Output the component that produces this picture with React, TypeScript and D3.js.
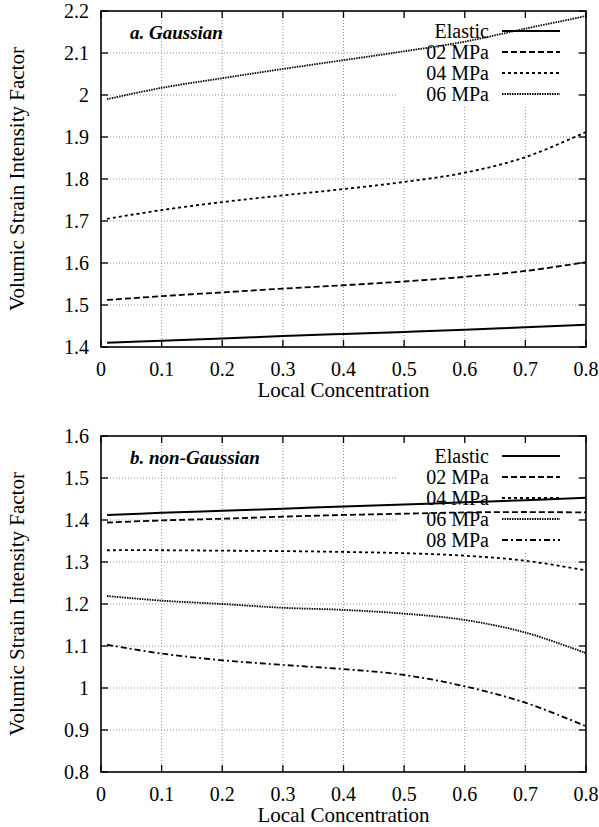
import React, { useEffect, useRef } from 'react';
import * as d3 from 'd3';

// Local concentration samples
const conc = [0.01, 0.1, 0.2, 0.3, 0.4, 0.5, 0.6, 0.7, 0.8];

// a. Gaussian
const gaussElastic = [1.41, 1.415, 1.42, 1.426, 1.431, 1.436, 1.441, 1.447, 1.453];
const gauss02 = [1.512, 1.521, 1.53, 1.539, 1.547, 1.556, 1.567, 1.581, 1.602];
const gauss04 = [1.705, 1.726, 1.745, 1.761, 1.776, 1.793, 1.815, 1.852, 1.912];
const gauss06 = [1.99, 2.017, 2.04, 2.062, 2.083, 2.104, 2.127, 2.158, 2.188];

// b. non-Gaussian
const ngElastic = [1.412, 1.417, 1.422, 1.427, 1.432, 1.437, 1.442, 1.447, 1.453];
const ng02 = [1.394, 1.399, 1.403, 1.408, 1.412, 1.415, 1.418, 1.419, 1.418];
const ng04 = [1.328, 1.328, 1.327, 1.326, 1.324, 1.321, 1.315, 1.303, 1.28];
const ng06 = [1.219, 1.208, 1.2, 1.191, 1.186, 1.177, 1.162, 1.132, 1.083];
const ng08 = [1.103, 1.082, 1.066, 1.055, 1.045, 1.031, 1.004, 0.965, 0.909];

const legendNames = ['Elastic', '02 MPa', '04 MPa', '06 MPa', '08 MPa'];
const xTicks = [0, 0.1, 0.2, 0.3, 0.4, 0.5, 0.6, 0.7, 0.8];
const yTicksA = [1.4, 1.5, 1.6, 1.7, 1.8, 1.9, 2, 2.1, 2.2];
const yTicksB = [0.8, 0.9, 1, 1.1, 1.2, 1.3, 1.4, 1.5, 1.6];

const dashes = ['none', '6,3', '3,3', '1.5,1', '6,3,2,3'];
const font = 'Liberation Serif, DejaVu Serif, serif';

const App = () => {
  const ref = useRef(null);

  useEffect(() => {
    const svg = d3.select(ref.current);
    svg.selectAll('*').remove();

    const drawPanel = (top, yTicks, seriesList, title) => {
      const left = 101, right = 586, bottom = top + 336;
      const x = d3.scaleLinear().domain([0, 0.8]).range([left, right]);
      const y = d3.scaleLinear().domain([yTicks[0], yTicks[yTicks.length - 1]]).range([bottom, top]);
      const g = svg.append('g').style('font-family', font);

      // grid
      g.selectAll('.gx').data(xTicks.slice(1, -1)).enter().append('line')
        .attr('x1', d => x(d)).attr('x2', d => x(d)).attr('y1', top).attr('y2', bottom)
        .attr('stroke', '#777').attr('stroke-width', 0.8).attr('stroke-dasharray', '1,2');
      g.selectAll('.gy').data(yTicks.slice(1, -1)).enter().append('line')
        .attr('x1', left).attr('x2', right).attr('y1', d => y(d)).attr('y2', d => y(d))
        .attr('stroke', '#777').attr('stroke-width', 0.8).attr('stroke-dasharray', '1,2');

      // legend background hides grid
      const legH = seriesList.length * 21 + 6;
      g.append('rect').attr('x', 398).attr('y', top + 5).attr('width', 180).attr('height', legH)
        .attr('fill', '#fff');

      // ticks (inward, all sides)
      xTicks.forEach(t => {
        g.append('line').attr('x1', x(t)).attr('x2', x(t)).attr('y1', bottom).attr('y2', bottom - 7)
          .attr('stroke', '#000').attr('stroke-width', 1.3);
        g.append('line').attr('x1', x(t)).attr('x2', x(t)).attr('y1', top).attr('y2', top + 7)
          .attr('stroke', '#000').attr('stroke-width', 1.3);
      });
      yTicks.forEach(t => {
        g.append('line').attr('x1', left).attr('x2', left + 7).attr('y1', y(t)).attr('y2', y(t))
          .attr('stroke', '#000').attr('stroke-width', 1.3);
        g.append('line').attr('x1', right).attr('x2', right - 7).attr('y1', y(t)).attr('y2', y(t))
          .attr('stroke', '#000').attr('stroke-width', 1.3);
      });

      // frame
      g.append('rect').attr('x', left).attr('y', top).attr('width', right - left).attr('height', bottom - top)
        .attr('fill', 'none').attr('stroke', '#000').attr('stroke-width', 1.6);

      // tick labels
      g.selectAll('.xl').data(xTicks).enter().append('text')
        .attr('x', d => x(d)).attr('y', bottom + 29).attr('text-anchor', 'middle')
        .style('font-size', '20px').text(d => String(d));
      g.selectAll('.yl').data(yTicks).enter().append('text')
        .attr('x', left - 12).attr('y', d => y(d) + 7).attr('text-anchor', 'end')
        .style('font-size', '20px').text(d => String(d));

      // axis titles
      g.append('text').attr('x', (left + right) / 2).attr('y', bottom + 50).attr('text-anchor', 'middle')
        .style('font-size', '21px').text('Local Concentration');
      g.append('text').attr('transform', `translate(24,${(top + bottom) / 2}) rotate(-90)`)
        .attr('text-anchor', 'middle').style('font-size', '21px')
        .text('Volumic Strain Intensity Factor');

      // panel title
      g.append('text').attr('x', 130).attr('y', top + 28)
        .style('font-size', '19px').style('font-weight', 'bold').style('font-style', 'italic').text(title);

      // legend
      seriesList.forEach((s, i) => {
        const ly = top + 20 + i * 21;
        g.append('text').attr('x', 489).attr('y', ly + 7).attr('text-anchor', 'end')
          .style('font-size', '20px').text(legendNames[i]);
        g.append('line').attr('x1', 502).attr('x2', 560).attr('y1', ly).attr('y2', ly)
          .attr('stroke', '#000').attr('stroke-width', i === 0 ? 2 : 1.8)
          .attr('stroke-dasharray', dashes[i]);
      });

      // curves
      const line = d3.line()
        .x((d, i) => x(conc[i]))
        .y(d => y(d))
        .curve(d3.curveCatmullRom.alpha(0.5));
      seriesList.forEach((s, i) => {
        g.append('path').datum(s).attr('d', line)
          .attr('fill', 'none').attr('stroke', '#000').attr('stroke-width', i === 0 ? 2 : 1.8)
          .attr('stroke-dasharray', dashes[i]);
      });
    };

    drawPanel(11, yTicksA, [gaussElastic, gauss02, gauss04, gauss06], 'a. Gaussian');
    drawPanel(436, yTicksB, [ngElastic, ng02, ng04, ng06, ng08], 'b. non-Gaussian');
  }, []);

  return (
    <svg ref={ref} width={599} height={827}
      style={{ position: 'absolute', left: 0, top: 0, background: '#fff' }} />
  );
};

export default App;
